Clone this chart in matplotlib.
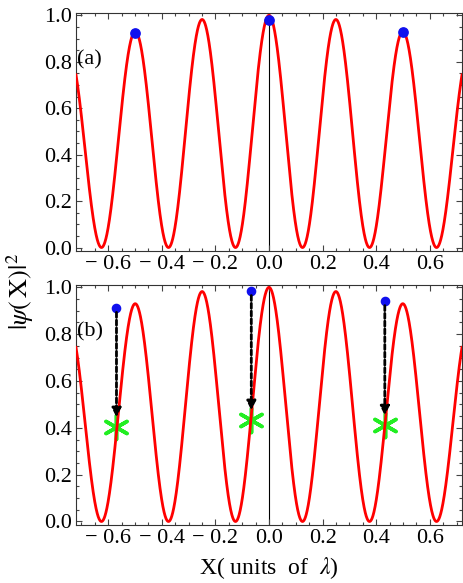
import numpy as np
import matplotlib
matplotlib.use("Agg")
import matplotlib.pyplot as plt
from matplotlib.ticker import MultipleLocator, FuncFormatter

plt.rcParams['font.family'] = ['Liberation Serif', 'DejaVu Serif']
plt.rcParams['mathtext.fontset'] = 'stix'

# Curve description: fringe period (in lambda) and peak heights
period = 0.25
peak_x = [-0.5, -0.25, 0.0, 0.25, 0.5]
peak_h = [0.93, 0.98, 1.0, 0.98, 0.93]

# Panel (a) markers
a_x = [-0.5, 0.0, 0.5]
a_y = [0.925, 0.982, 0.927]

# Panel (b) markers: start points (blue) and end points (green asterisks)
b_x = [-0.569, -0.066, 0.432]
b_y0 = [0.913, 0.985, 0.942]
b_y1 = [0.405, 0.435, 0.413]

xlim = (-0.72, 0.72)
ylim = (-0.015, 1.01)

# Gaussian envelope width derived from the outer peak height
sig2 = -(peak_x[-1] ** 2) / (2 * np.log(peak_h[-1]))
X = np.linspace(xlim[0], xlim[1], 2000)
Y = np.exp(-X ** 2 / (2 * sig2)) * np.cos(np.pi * X / period) ** 2

fig = plt.figure(figsize=(4.63, 5.83), dpi=100)
ax1 = fig.add_axes([76 / 463, 1 - 251 / 583, 386 / 463, 238 / 583])
ax2 = fig.add_axes([76 / 463, 1 - 525 / 583, 386 / 463, 240 / 583])

def fmt(v, pos):
    s = "%.1f" % abs(v)
    if v < -1e-9:
        return "\u2212 " + s
    return s

for ax, lab in ((ax1, "(a)"), (ax2, "(b)")):
    ax.axvline(0, color='black', lw=0.8, zorder=1)
    ax.plot(X, Y, color='red', lw=2.0, zorder=3)
    ax.set_xlim(*xlim)
    ax.set_ylim(*ylim)
    ax.xaxis.set_major_locator(MultipleLocator(0.2))
    ax.xaxis.set_minor_locator(MultipleLocator(0.05))
    ax.yaxis.set_major_locator(MultipleLocator(0.2))
    ax.yaxis.set_minor_locator(MultipleLocator(0.05))
    ax.xaxis.set_major_formatter(FuncFormatter(fmt))
    ax.yaxis.set_major_formatter(FuncFormatter(lambda v, p: "%.1f" % v))
    ax.tick_params(which='both', direction='in', top=True, right=True,
                   labelsize=16, width=0.8, color='#444444', pad=3)
    ax.tick_params(which='major', length=4.5)
    ax.tick_params(which='minor', length=2.5)
    for s in ax.spines.values():
        s.set_linewidth(0.8)
        s.set_color('#333333')
    ax.text(-0.717, 0.81, lab, fontsize=16, va='center', ha='left', zorder=5)

ax1.scatter(a_x, a_y, s=45, color='#1010ee', zorder=4)

ax2.scatter(b_x, b_y0, s=35, color='#1010ee', zorder=4)
ax2.scatter(b_x, b_y1, s=300, marker=(6, 2, 0), color='#22ee22',
            linewidths=2.6, zorder=2)
for x, y0, y1 in zip(b_x, b_y0, b_y1):
    ax2.annotate("", xy=(x, y1 + 0.04), xytext=(x, y0 - 0.02),
                 arrowprops=dict(arrowstyle='-|>', color='black', lw=2.0,
                                 linestyle=(0, (1.8, 1.0)), mutation_scale=13,
                                 shrinkA=0, shrinkB=0), zorder=5)

fig.text(20 / 463, 1 - 291 / 583, r"$|\psi(\,\mathrm{X})|^2$", rotation=90,
         fontsize=19, ha='center', va='center')
fig.text(269 / 463, 1 - 568 / 583, r"X( units  of  $\lambda$)", fontsize=17,
         ha='center', va='center')

fig.savefig("out.png", dpi=100)
